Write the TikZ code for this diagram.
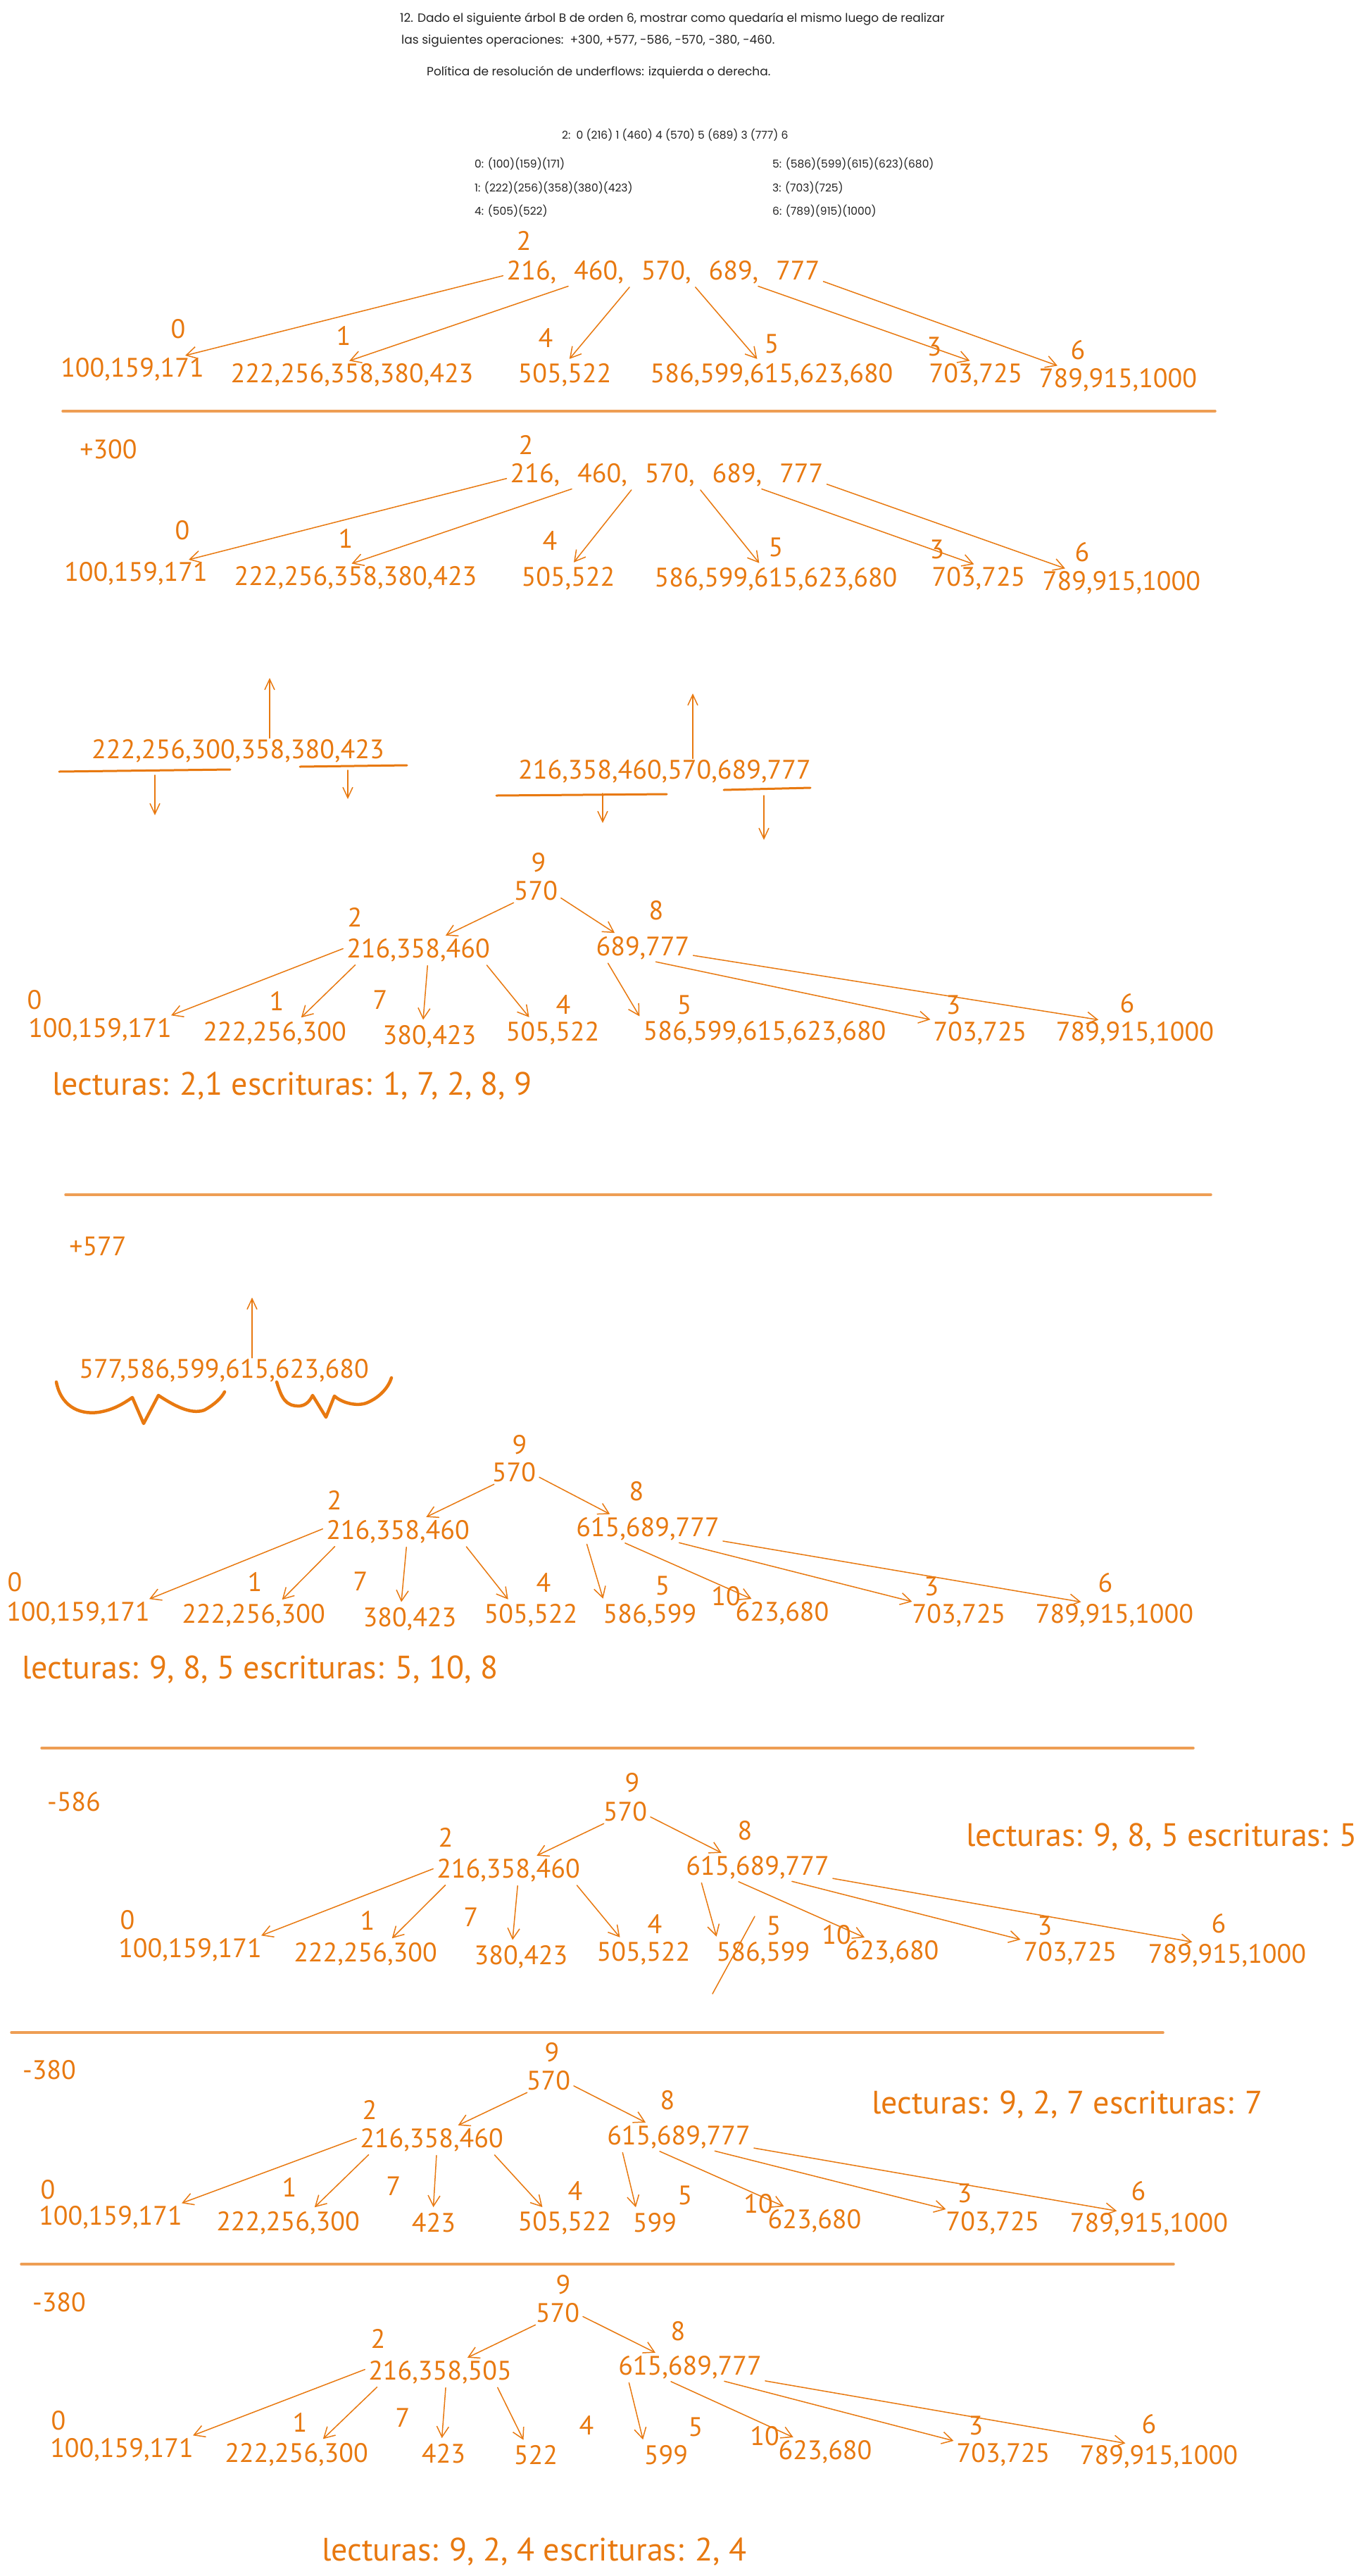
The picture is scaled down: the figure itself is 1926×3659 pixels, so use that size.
\documentclass[tikz,border=0pt]{standalone}
\usepackage{fontspec}
\usetikzlibrary{arrows.meta}
\newfontfamily\handfont{PT Sans}
\newfontfamily\printfont{Poppins}
\definecolor{ink}{RGB}{232,121,16}
\definecolor{inkpale}{RGB}{238,158,84}
\definecolor{printink}{RGB}{35,35,35}
\newcommand{\keysize}{\handfont\fontsize{38}{42}\selectfont}
\newcommand{\widekeys}{\keysize\spaceskip=25pt\relax}
\newcommand{\notesize}{\handfont\fontsize{46}{50}\selectfont}
\newcommand{\headsize}{\printfont\fontsize{17}{20}\selectfont}
\newcommand{\listsize}{\printfont\fontsize{15.5}{18}\selectfont}
\tikzset{keynode/.style={text=ink,font=\keysize,inner sep=2pt},
 rootkeys/.style={keynode,font=\widekeys},
 pageid/.style={text=ink,font=\keysize,inner sep=2pt},
 note/.style={text=ink,font=\notesize,inner sep=0pt,anchor=west},
 headline/.style={text=printink,font=\headsize,inner sep=0pt,anchor=west},
 pagelist/.style={text=printink,font=\listsize,inner sep=0pt,anchor=west},
 ptr/.style={draw=ink,line width=1.5pt,-{Straight Barb[length=15pt,width=17pt,line width=1.5pt]},shorten <=3pt,shorten >=6pt},
 riser/.style={draw=ink,line width=1.5pt,-{Straight Barb[length=15pt,width=14pt,line width=1.5pt]}},
 sepline/.style={draw=inkpale,line width=3.5pt},
 underl/.style={draw=ink,line width=3pt},
 strike/.style={draw=ink,line width=1.5pt},
 hbrace/.style={draw=ink,line width=4.5pt},
 every picture/.style={line join=round,line cap=round}}
\begin{document}
\begin{tikzpicture}[x=1pt,y=-1pt]
\fill[white] (0,0) rectangle (1926,3659);
\useasboundingbox (0,0) rectangle (1926,3659);
\node[headline] (title1) at (568,27) {12. Dado el siguiente árbol B de orden 6, mostrar como quedaría el mismo luego de realizar};
\node[headline] (title2) at (570,58) {las siguientes operaciones:\ \ +300, +577, -586, -570, -380, -460.};
\node[headline] (policy) at (606,103) {Política de resolución de underflows: izquierda o derecha.};
\node[pagelist] (list2) at (798,192) {2:\ \ 0 (216) 1 (460) 4 (570) 5 (689) 3 (777) 6};
\node[pagelist] (list0) at (674,233) {0: (100)(159)(171)};
\node[pagelist] (list1) at (674,267) {1: (222)(256)(358)(380)(423)};
\node[pagelist] (list4) at (674,300) {4: (505)(522)};
\node[pagelist] (list5) at (1097,233) {5: (586)(599)(615)(623)(680)};
\node[pagelist] (list3) at (1097,267) {3: (703)(725)};
\node[pagelist] (list6) at (1097,300) {6: (789)(915)(1000)};

\node[pageid] (t1i2) at (744,342) {2};
\node[rootkeys] (t1r) at (942,387) {216, 460, 570, 689, 777};
\node[pageid] (t1i0) at (253,467) {0};
\node[pageid] (t1i1) at (488,477) {1};
\node[pageid] (t1i4) at (775,480) {4};
\node[pageid] (t1i5) at (1096,488) {5};
\node[pageid] (t1i3) at (1327,492) {3};
\node[pageid] (t1i6) at (1531,497) {6};
\node[keynode] (t1p0) at (188,525) {100,159,171};
\node[keynode] (t1p1) at (500,533) {222,256,358,380,423};
\node[keynode] (t1p4) at (802,533) {505,522};
\node[keynode] (t1p5) at (1096,533) {586,599,615,623,680};
\node[keynode] (t1p3) at (1386,533) {703,725};
\node[keynode] (t1p6) at (1588,540) {789,915,1000};
\draw[ptr] (t1r.181) -- (t1p0.15);
\draw[ptr] (t1r.188) -- (t1p1.117);
\draw[ptr] (t1r.202) -- (t1p4.81);
\draw[ptr] (t1r.337) -- (t1p5.132);
\draw[ptr] (t1r.352) -- (t1p3.99);
\draw[ptr] (t1r.357) -- (t1p6.167);
\draw[sepline] (89,584) -- (1726,584);

\node[keynode] (op1) at (154,638) {+300};
\node[pageid] (t2i2) at (747,632) {2};
\node[rootkeys] (t2r) at (947,675) {216, 460, 570, 689, 777};
\node[pageid] (t2i0) at (259,753) {0};
\node[pageid] (t2i1) at (491,765) {1};
\node[pageid] (t2i4) at (781,768) {4};
\node[pageid] (t2i5) at (1102,777) {5};
\node[pageid] (t2i3) at (1331,780) {3};
\node[pageid] (t2i6) at (1537,784) {6};
\node[keynode] (t2p0) at (193,815) {100,159,171};
\node[keynode] (t2p1) at (505,821) {222,256,358,380,423};
\node[keynode] (t2p4) at (807,822) {505,522};
\node[keynode] (t2p5) at (1102,823) {586,599,615,623,680};
\node[keynode] (t2p3) at (1390,822) {703,725};
\node[keynode] (t2p6) at (1593,828) {789,915,1000};
\draw[ptr] (t2r.181) -- (t2p0.15);
\draw[ptr] (t2r.188) -- (t2p1.121);
\draw[ptr] (t2r.201) -- (t2p4.77);
\draw[ptr] (t2r.338) -- (t2p5.137);
\draw[ptr] (t2r.352) -- (t2p3.93);
\draw[ptr] (t2r.357) -- (t2p6.166);

\node[keynode] (s1) at (338,1067) {222,256,300,358,380,423};
\coordinate (s1up) at (383,963);
\draw[riser] (s1.north -| s1up) -- (s1up);
\draw[underl] (84,1096) -- (327,1093);
\draw[underl] (426,1089) -- (578,1087);
\coordinate (s1la) at (220,1101);
\coordinate (s1lb) at (220,1158);
\coordinate (s1ra) at (494,1094);
\coordinate (s1rb) at (494,1135);
\draw[riser] (s1la) -- (s1lb);
\draw[riser] (s1ra) -- (s1rb);
\node[keynode] (s2) at (944,1096) {216,358,460,570,689,777};
\coordinate (s2up) at (984,985);
\draw[riser] (s2.north -| s2up) -- (s2up);
\draw[underl] (705,1130) -- (947,1128);
\draw[underl] (1028,1122) -- (1151,1119);
\coordinate (s2la) at (856,1127);
\coordinate (s2lb) at (856,1169);
\coordinate (s2ra) at (1085,1130);
\coordinate (s2rb) at (1085,1193);
\draw[riser] (s2la) -- (s2lb);
\draw[riser] (s2ra) -- (s2rb);

\node[pageid] (t3i9) at (765,1225) {9};
\node[keynode] (t3r) at (761,1265) {570};
\node[pageid] (t3i2) at (504,1303) {2};
\node[pageid] (t3i8) at (932,1293) {8};
\node[keynode] (t3b) at (594,1350) {216,358,460};
\node[keynode] (t3c) at (913,1347) {689,777};
\node[pageid] (t3i0) at (49,1420) {0};
\node[pageid] (t3i1) at (393,1422) {1};
\node[pageid] (t3i7) at (540,1420) {7};
\node[pageid] (t3i4) at (800,1427) {4};
\node[pageid] (t3i5) at (972,1427) {5};
\node[pageid] (t3i3) at (1354,1427) {3};
\node[pageid] (t3i6) at (1601,1425) {6};
\node[keynode] (t3p0) at (142,1463) {100,159,171};
\node[keynode] (t3p1) at (390,1468) {222,256,300};
\node[keynode] (t3p7) at (610,1473) {380,423};
\node[keynode] (t3p4) at (785,1468) {505,522};
\node[keynode] (t3p5) at (1086,1467) {586,599,615,623,680};
\node[keynode] (t3p3) at (1392,1468) {703,725};
\node[keynode] (t3p6) at (1612,1468) {789,915,1000};
\draw[ptr] (t3r.209) -- (t3b.29);
\draw[ptr] (t3r.345) -- (t3c.152);
\draw[ptr] (t3b.178) -- (t3p0.11);
\draw[ptr] (t3b.192) -- (t3p1.29);
\draw[ptr] (t3b.306) -- (t3p7.117);
\draw[ptr] (t3b.349) -- (t3p4.148);
\draw[ptr] (t3c.200) -- (t3p5.174);
\draw[ptr] (t3c.310) -- (t3p3.164);
\draw[ptr] (t3c.352) -- (t3p6.158);
\node[note] (io3) at (74,1543) {lecturas: 2,1 escrituras: 1, 7, 2, 8, 9};
\draw[sepline] (93,1697) -- (1720,1697);

\node[keynode] (op2) at (139,1770) {+577};
\node[keynode] (s3) at (318,1947) {577,586,599,615,623,680};
\coordinate (s3up) at (358,1843);
\draw[riser,line width=2.5pt] (s3.north -| s3up) -- (s3up);
\draw[hbrace] (80,1963) .. controls (86,1995) and (110,2010) .. (140,2006) .. controls (165,2002) and (180,1990) .. (188,1985) -- (204,2022) -- (225,1982) .. controls (245,1995) and (270,2010) .. (290,2003) .. controls (305,1995) and (315,1985) .. (319,1977);
\draw[hbrace] (393,1963) .. controls (400,1985) and (405,1998) .. (426,1997) .. controls (436,1996) and (441,1988) .. (444,1982) -- (463,2013) -- (475,1983) .. controls (485,1992) and (505,1998) .. (520,1993) .. controls (540,1985) and (552,1970) .. (556,1957);

\node[pageid] (t4i9) at (738,2052) {9};
\node[keynode] (t4r) at (730,2091) {570};
\node[pageid] (t4i2) at (475,2131) {2};
\node[pageid] (t4i8) at (904,2118) {8};
\node[keynode] (t4b) at (565,2176) {216,358,460};
\node[keynode] (t4c) at (920,2172) {615,689,777};
\node[pageid] (t4i0) at (21,2247) {0};
\node[pageid] (t4i1) at (362,2247) {1};
\node[pageid] (t4i7) at (512,2246) {7};
\node[pageid] (t4i4) at (772,2248) {4};
\node[pageid] (t4i5) at (941,2252) {5};
\node[pageid] (t4i10) at (1031,2267) {10};
\node[pageid] (t4i3) at (1323,2253) {3};
\node[pageid] (t4i6) at (1570,2248) {6};
\node[keynode] (t4p0) at (111,2292) {100,159,171};
\node[keynode] (t4p1) at (360,2295) {222,256,300};
\node[keynode] (t4p7) at (582,2300) {380,423};
\node[keynode] (t4p4) at (754,2295) {505,522};
\node[keynode] (t4p5) at (923,2295) {586,599};
\node[keynode] (t4p10) at (1111,2292) {623,680};
\node[keynode] (t4p3) at (1362,2295) {703,725};
\node[keynode] (t4p6) at (1583,2295) {789,915,1000};
\draw[ptr] (t4r.212) -- (t4b.28);
\draw[ptr] (t4r.350) -- (t4c.159);
\draw[ptr] (t4b.177) -- (t4p0.11);
\draw[ptr] (t4b.192) -- (t4p1.27);
\draw[ptr] (t4b.304) -- (t4p7.124);
\draw[ptr] (t4b.349) -- (t4p4.147);
\draw[ptr] (t4c.192) -- (t4p5.164);
\draw[ptr] (t4c.208) -- (t4p10.154);
\draw[ptr] (t4c.336) -- (t4p3.163);
\draw[ptr] (t4c.351) -- (t4p6.156);
\node[note] (io4) at (31,2372) {lecturas: 9, 8, 5 escrituras: 5, 10, 8};
\draw[sepline] (59,2483) -- (1695,2483);

\node[keynode] (op3) at (105,2559) {-586};
\node[pageid] (t5i9) at (898,2532) {9};
\node[keynode] (t5r) at (888,2573) {570};
\node[pageid] (t5i2) at (633,2610) {2};
\node[pageid] (t5i8) at (1058,2600) {8};
\node[keynode] (t5b) at (722,2657) {216,358,460};
\node[keynode] (t5c) at (1076,2653) {615,689,777};
\node[note] (io5) at (1372,2610) {lecturas: 9, 8, 5 escrituras: 5};
\node[pageid] (t5i0) at (181,2727) {0};
\node[pageid] (t5i1) at (522,2728) {1};
\node[pageid] (t5i7) at (669,2723) {7};
\node[pageid] (t5i4) at (930,2733) {4};
\node[pageid] (t5i5) at (1099,2735) {5};
\node[pageid] (t5i10) at (1188,2748) {10};
\node[pageid] (t5i3) at (1484,2735) {3};
\node[pageid] (t5i6) at (1731,2732) {6};
\node[keynode] (t5p0) at (270,2770) {100,159,171};
\node[keynode] (t5p1) at (519,2776) {222,256,300};
\node[keynode] (t5p7) at (740,2780) {380,423};
\node[keynode] (t5p4) at (914,2775) {505,522};
\node[keynode] (t5p5) at (1084,2775) {586,599};
\node[keynode] (t5p10) at (1267,2773) {623,680};
\node[keynode] (t5p3) at (1520,2775) {703,725};
\node[keynode] (t5p6) at (1743,2778) {789,915,1000};
\draw[ptr] (t5r.210) -- (t5b.28);
\draw[ptr] (t5r.349) -- (t5c.158);
\draw[ptr] (t5b.178) -- (t5p0.11);
\draw[ptr] (t5b.192) -- (t5p1.29);
\draw[ptr] (t5b.306) -- (t5p7.124);
\draw[ptr] (t5b.349) -- (t5p4.148);
\draw[ptr] (t5c.193) -- (t5p5.164);
\draw[ptr] (t5c.212) -- (t5p10.151);
\draw[ptr] (t5c.338) -- (t5p3.164);
\draw[ptr] (t5c.352) -- (t5p6.157);
\draw[strike] (1072,2722) -- (1012,2832);
\draw[sepline] (16,2887) -- (1652,2887);

\node[keynode] (op4) at (70,2940) {-380};
\node[pageid] (t6i9) at (784,2915) {9};
\node[keynode] (t6r) at (779,2955) {570};
\node[pageid] (t6i2) at (525,2997) {2};
\node[pageid] (t6i8) at (948,2983) {8};
\node[keynode] (t6b) at (613,3040) {216,358,460};
\node[keynode] (t6c) at (964,3036) {615,689,777};
\node[note] (io6) at (1238,2990) {lecturas: 9, 2, 7 escrituras: 7};
\node[pageid] (t6i0) at (68,3110) {0};
\node[pageid] (t6i1) at (411,3107) {1};
\node[pageid] (t6i7) at (559,3105) {7};
\node[pageid] (t6i4) at (817,3112) {4};
\node[pageid] (t6i5) at (973,3118) {5};
\node[pageid] (t6i10) at (1077,3130) {10};
\node[pageid] (t6i3) at (1370,3115) {3};
\node[pageid] (t6i6) at (1617,3112) {6};
\node[keynode] (t6p0) at (157,3150) {100,159,171};
\node[keynode] (t6p1) at (409,3158) {222,256,300};
\node[keynode] (t6p7) at (616,3157) {423};
\node[keynode] (t6p4) at (802,3158) {505,522};
\node[keynode] (t6p5) at (930,3157) {599};
\node[keynode] (t6p10) at (1157,3155) {623,680};
\node[keynode] (t6p3) at (1410,3158) {703,725};
\node[keynode] (t6p6) at (1632,3160) {789,915,1000};
\draw[ptr] (t6r.210) -- (t6b.30);
\draw[ptr] (t6r.349) -- (t6c.156);
\draw[ptr] (t6b.178) -- (t6p0.11);
\draw[ptr] (t6b.192) -- (t6p1.29);
\draw[ptr] (t6b.291) -- (t6p7.93);
\draw[ptr] (t6b.348) -- (t6p4.146);
\draw[ptr] (t6c.193) -- (t6p5.148);
\draw[ptr] (t6c.212) -- (t6p10.154);
\draw[ptr] (t6c.339) -- (t6p3.163);
\draw[ptr] (t6c.352) -- (t6p6.155);
\draw[sepline] (30,3216) -- (1667,3216);

\node[keynode] (op5) at (84,3270) {-380};
\node[pageid] (t7i9) at (800,3245) {9};
\node[keynode] (t7r) at (792,3285) {570};
\node[pageid] (t7i2) at (537,3322) {2};
\node[pageid] (t7i8) at (963,3311) {8};
\node[keynode] (t7b) at (625,3370) {216,358,505};
\node[keynode] (t7c) at (980,3363) {615,689,777};
\node[pageid] (t7i0) at (83,3438) {0};
\node[pageid] (t7i1) at (426,3441) {1};
\node[pageid] (t7i7) at (572,3434) {7};
\node[pageid] (t7i4) at (833,3445) {4};
\node[pageid] (t7i5) at (988,3447) {5};
\node[pageid] (t7i10) at (1086,3460) {10};
\node[pageid] (t7i3) at (1386,3445) {3};
\node[pageid] (t7i6) at (1632,3443) {6};
\node[keynode] (t7p0) at (173,3480) {100,159,171};
\node[keynode] (t7p1) at (421,3487) {222,256,300};
\node[keynode] (t7p7) at (630,3485) {423};
\node[keynode] (t7p4) at (761,3487) {522};
\node[keynode] (t7p5) at (946,3487) {599};
\node[keynode] (t7p10) at (1172,3483) {623,680};
\node[keynode] (t7p3) at (1425,3487) {703,725};
\node[keynode] (t7p6) at (1646,3490) {789,915,1000};
\draw[ptr] (t7r.209) -- (t7b.29);
\draw[ptr] (t7r.353) -- (t7c.157);
\draw[ptr] (t7b.177) -- (t7p0.11);
\draw[ptr] (t7b.192) -- (t7p1.29);
\draw[ptr] (t7b.294) -- (t7p7.100);
\draw[ptr] (t7b.347) -- (t7p4.133);
\draw[ptr] (t7c.192) -- (t7p5.153);
\draw[ptr] (t7c.212) -- (t7p10.155);
\draw[ptr] (t7c.338) -- (t7p3.164);
\draw[ptr] (t7c.350) -- (t7p6.156);
\node[note] (io7) at (457,3625) {lecturas: 9, 2, 4 escrituras: 2, 4};
\end{tikzpicture}
\end{document}
